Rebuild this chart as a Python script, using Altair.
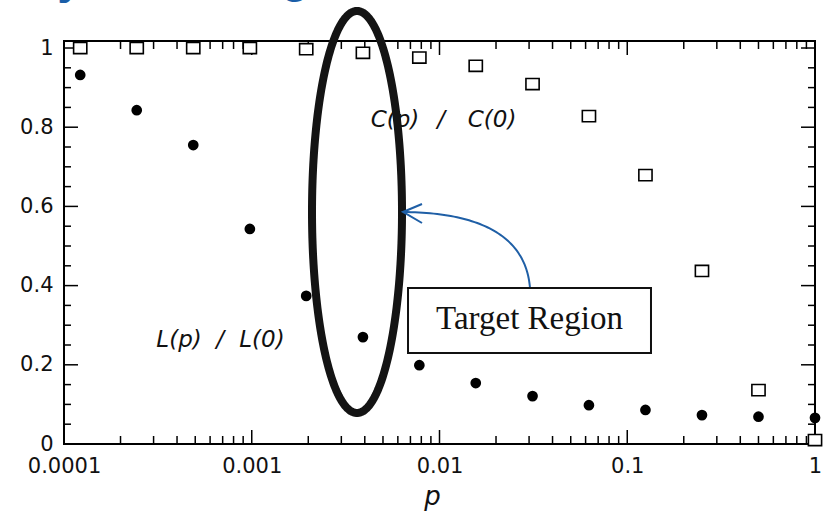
import altair as alt
import pandas as pd
import numpy as np

# ---- data ----
p_values = [0.000122, 0.000244, 0.000488, 0.000977, 0.00195, 0.00391, 0.00781,
            0.0156, 0.0313, 0.0625, 0.125, 0.25, 0.5, 1.0]
C_ratio = [1.0, 1.0, 1.0, 1.0, 0.997, 0.988, 0.976, 0.955, 0.909, 0.828,
           0.679, 0.437, 0.136, 0.01]
L_ratio = [0.932, 0.843, 0.755, 0.543, 0.374, 0.270, 0.199, 0.154, 0.121,
           0.098, 0.086, 0.073, 0.069, 0.066]

x_tick_values = [0.0001, 0.001, 0.01, 0.1, 1]
y_tick_values = [0, 0.2, 0.4, 0.6, 0.8, 1]

# annotation geometry (data units)
label_C_parts = ["C(p)", "/", "C(0)"]
label_C_x = [0.00579, 0.01019, 0.01905]
label_C_y = 0.818
label_L_parts = ["L(p)", "/", "L(0)"]
label_L_x = [0.000410, 0.000678, 0.001134]
label_L_y = 0.2626

ellipse_center_log_x = -2.4394
ellipse_rx_decades = 0.2397
ellipse_center_y = 0.5859
ellipse_ry = 0.5076

box_x = [0.006797, 0.1338]
box_y = [0.2298, 0.3939]
box_text = "Target Region"
box_text_x = 0.03016
box_text_y = 0.3157

arrow_ctrl_log_x = [-1.5180, -1.5499, -2.1944]
arrow_ctrl_y = [0.3939, 0.5833, 0.5859]
arrowhead_log_x = [-2.0932, -2.1944, -2.0932]
arrowhead_y = [0.6061, 0.5859, 0.5581]

# ---- layout ----
W, H = 751, 403
X_DOMAIN = [1e-4, 1]
Y_DOMAIN = [0, 1.0177]
BLUE = "#1f5fa6"
INK = "#111111"
SANS = "DejaVu Sans"

xs = alt.Scale(type="log", domain=X_DOMAIN, nice=False)
ys = alt.Scale(domain=Y_DOMAIN, nice=False, zero=False)

x_axis = alt.Axis(values=x_tick_values, format="~g", title="p",
                  titleFontStyle="italic", titleFontSize=26,
                  titleFontWeight="normal", titleFont=SANS,
                  titleColor=INK, titleY=60, titleX=368,
                  titleBaseline="alphabetic",
                  labelPadding=11, labelFlush=False)
y_axis = alt.Axis(values=y_tick_values, format="~g", title=None,
                  labelPadding=11, labelFlush=False)


def X(field):
    return alt.X(field, type="quantitative", scale=xs, axis=x_axis, title="p")


def Y(field):
    return alt.Y(field, type="quantitative", scale=ys, axis=y_axis, title=None)


df = pd.DataFrame({"p": p_values, "C": C_ratio, "L": L_ratio})

squares = alt.Chart(df).mark_point(
    shape="M-1.1,-0.93L1.1,-0.93L1.1,0.93L-1.1,0.93Z", size=144,
    filled=False, stroke="black", strokeWidth=1.6, fill="white", fillOpacity=1,
    opacity=1,
).encode(x=X("p"), y=Y("C"))

circles = alt.Chart(df).mark_circle(size=115, color="black", opacity=1).encode(
    x=X("p"), y=Y("L"))

# ---- inward ticks on all four sides ----
x_minor = [k * 10.0 ** e for e in range(-4, 0) for k in range(2, 10)]
y_minor = [round(0.05 * i, 2) for i in range(1, 20) if i % 4 != 0]
tx_major = pd.DataFrame({"v": x_tick_values})
tx_minor = pd.DataFrame({"v": x_minor})
ty_major = pd.DataFrame({"v": y_tick_values})
ty_minor = pd.DataFrame({"v": y_minor})

tick_layers = []
for d, ln in [(tx_major, 14), (tx_minor, 8)]:
    tick_layers.append(alt.Chart(d).mark_rule(color="black", strokeWidth=1.5).encode(
        x=X("v"), y=alt.value(H), y2=alt.value(H - ln)))
    tick_layers.append(alt.Chart(d).mark_rule(color="black", strokeWidth=1.5).encode(
        x=X("v"), y=alt.value(0), y2=alt.value(ln)))
for d, ln in [(ty_major, 14), (ty_minor, 7)]:
    tick_layers.append(alt.Chart(d).mark_rule(color="black", strokeWidth=1.5).encode(
        y=Y("v"), x=alt.value(0), x2=alt.value(ln)))
    tick_layers.append(alt.Chart(d).mark_rule(color="black", strokeWidth=1.5).encode(
        y=Y("v"), x=alt.value(W), x2=alt.value(W - ln)))

# ---- curve labels ----
lab_df = pd.DataFrame({
    "t": label_C_parts + label_L_parts,
    "x": label_C_x + label_L_x,
    "y": [label_C_y] * 3 + [label_L_y] * 3,
})
labels = alt.Chart(lab_df).mark_text(
    font=SANS, fontStyle="italic", fontSize=23, color=INK,
    align="center", baseline="middle",
).encode(x=X("x"), y=Y("y"), text="t:N")

# ---- ellipse ----
tt = np.linspace(0, 2 * np.pi, 241)
ell_df = pd.DataFrame({
    "x": 10 ** (ellipse_center_log_x + ellipse_rx_decades * np.cos(tt)),
    "y": ellipse_center_y + ellipse_ry * np.sin(tt),
    "o": np.arange(len(tt)),
})
ellipse = alt.Chart(ell_df).mark_line(
    color="#141414", strokeWidth=8, clip=False, strokeJoin="round"
).encode(x=X("x"), y=Y("y"), order="o:Q")

# ---- arrow (quadratic bezier in log-x / y space) ----
s = np.linspace(0, 1, 60)
P0x, P1x, P2x = arrow_ctrl_log_x
P0y, P1y, P2y = arrow_ctrl_y
bx = (1 - s) ** 2 * P0x + 2 * (1 - s) * s * P1x + s ** 2 * P2x
by = (1 - s) ** 2 * P0y + 2 * (1 - s) * s * P1y + s ** 2 * P2y
arr_df = pd.DataFrame({"x": 10 ** bx, "y": by, "o": np.arange(len(s))})
arrow = alt.Chart(arr_df).mark_line(color=BLUE, strokeWidth=2).encode(
    x=X("x"), y=Y("y"), order="o:Q")
head_df = pd.DataFrame({"x": [10 ** v for v in arrowhead_log_x],
                        "y": arrowhead_y, "o": [0, 1, 2]})
head = alt.Chart(head_df).mark_line(color=BLUE, strokeWidth=2).encode(
    x=X("x"), y=Y("y"), order="o:Q")

# ---- box with text ----
box_df = pd.DataFrame({"x": [box_x[0]], "x2": [box_x[1]],
                       "y": [box_y[0]], "y2": [box_y[1]]})
box = alt.Chart(box_df).mark_rect(fill="white", stroke="#111", strokeWidth=2).encode(
    x=X("x"), x2="x2", y=Y("y"), y2="y2")
box_txt = alt.Chart(pd.DataFrame({"x": [box_text_x], "y": [box_text_y],
                                  "t": [box_text]})).mark_text(
    font="Liberation Serif", fontSize=33, color=INK, align="center",
    baseline="middle",
).encode(x=X("x"), y=Y("y"), text="t:N")

# ---- cut-off blue heading fragments above the chart (as in the reference) ----
frag_y = alt.Chart(pd.DataFrame({"t": ["y"]})).mark_text(
    font="Liberation Sans", fontWeight="bold", fontSize=46, color="#1a5ea8",
    align="center", baseline="alphabetic", clip=False,
).encode(x=alt.value(6), y=alt.value(-48), text="t:N")
frag_g = alt.Chart(pd.DataFrame({"t": ["g"]})).mark_text(
    font="Liberation Sans", fontWeight="bold", fontSize=46, color="#1a5ea8",
    align="center", baseline="alphabetic", clip=False,
).encode(x=alt.value(231), y=alt.value(-49), text="t:N")

chart = alt.layer(
    *tick_layers, squares, circles, labels, ellipse, arrow, head, box, box_txt,
    frag_y, frag_g,
).properties(
    width=W, height=H,
    autosize=alt.AutoSizeParams(type="none"),
    padding={"left": 64, "top": 41, "right": 8, "bottom": 71},
    background="white",
).configure_view(
    stroke="black", strokeWidth=2,
).configure_axis(
    domain=False, ticks=False, tickSize=0, grid=False,
    labelFont=SANS, labelFontSize=21, labelColor=INK,
)

chart.save("out.html", embed_options={"renderer": "svg", "actions": False})
